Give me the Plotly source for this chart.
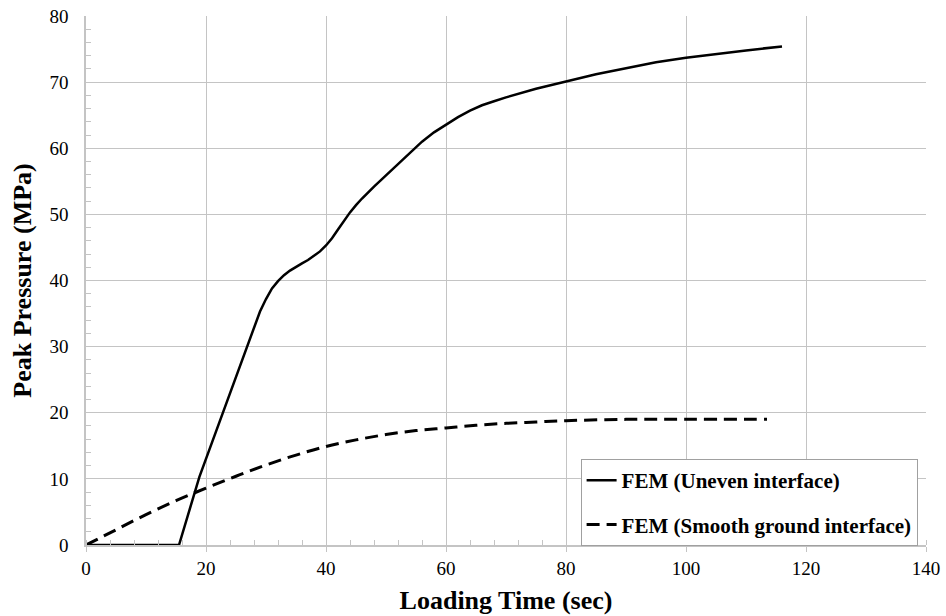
import plotly.graph_objects as go

# Solid: FEM (Uneven interface)
uneven_x = [0, 15.5, 18.9, 22.8, 26, 28, 29, 30, 31, 32, 33, 34, 35, 36, 37, 38, 39, 40, 41, 42,
            43, 44, 45, 46, 48, 50, 52, 54, 56, 58, 60, 62, 64, 66, 68, 70, 75, 80, 85, 90,
            95, 100, 105, 110, 116]
uneven_y = [0, 0, 10.3, 19.9, 28, 33, 35.3, 37.2, 38.8, 39.9, 40.8, 41.5, 42.1, 42.6, 43.1, 43.7,
            44.4, 45.3, 46.4, 47.7, 49, 50.3, 51.4, 52.4, 54.2, 55.9, 57.5, 59.2, 61.0, 62.4,
            63.6, 64.7, 65.7, 66.5, 67.1, 67.7, 69.0, 70.1, 71.2, 72.1, 73.0, 73.7, 74.3,
            74.8, 75.4]

# Dashed: FEM (Smooth ground interface)
smooth_x = [0, 5, 10, 15, 20, 25, 30, 35, 40, 45, 50, 55, 60, 65, 70, 75, 80, 90, 100, 113.5]
smooth_y = [0, 2.3, 4.6, 6.7, 8.6, 10.4, 12.1, 13.6, 14.9, 15.9, 16.7, 17.3, 17.7, 18.1,
            18.4, 18.6, 18.8, 19.0, 19.0, 19.0]

FONT = "Liberation Serif, Times New Roman, serif"
GRID = "#c4c4c4"

fig = go.Figure()
fig.add_trace(go.Scatter(x=uneven_x, y=uneven_y, mode="lines",
                         name="<b>FEM (Uneven interface)</b>", legendgroup="a",
                         line=dict(color="black", width=2.5)))
fig.add_trace(go.Scatter(x=smooth_x, y=smooth_y, mode="lines", line_shape="spline",
                         name="<b>FEM (Smooth ground interface)</b>", legendgroup="b",
                         line=dict(color="black", width=3, dash="13px,7px")))

fig.update_layout(
    width=946, height=616,
    margin=dict(l=86, r=20, t=16, b=71),
    paper_bgcolor="white", plot_bgcolor="white",
    font=dict(family=FONT, color="black", size=19),
    showlegend=True,
    legend=dict(x=0.99, xanchor="right", y=-0.002, yanchor="bottom",
                bgcolor="white", bordercolor="#a0a0a0", borderwidth=1,
                font=dict(family=FONT, size=21, color="black"),
                tracegroupgap=14, traceorder="grouped"),
    xaxis=dict(range=[0, 140], dtick=20, showgrid=True, gridcolor=GRID, gridwidth=1,
               showline=True, linecolor=GRID, linewidth=1.5, zeroline=False, automargin=False,
               ticks="outside", ticklen=5, tickcolor=GRID,
               minor=dict(dtick=4, ticks="inside", ticklen=5, tickcolor=GRID, showgrid=False),
               title=dict(text="<b>Loading Time (sec)</b>", font=dict(size=26), standoff=13),
               tickfont=dict(size=19)),
    yaxis=dict(range=[0, 80], dtick=10, showgrid=True, gridcolor=GRID, gridwidth=1,
               showline=True, linecolor=GRID, linewidth=1.5, zeroline=False, automargin=False,
               ticks="", ticklabelstandoff=12,
               minor=dict(dtick=2, ticks="inside", ticklen=5, tickcolor=GRID, showgrid=False),
               title=dict(text="<b>Peak Pressure (MPa)</b>", font=dict(size=26), standoff=10),
               tickfont=dict(size=19)),
)

fig.write_html("out.html")
